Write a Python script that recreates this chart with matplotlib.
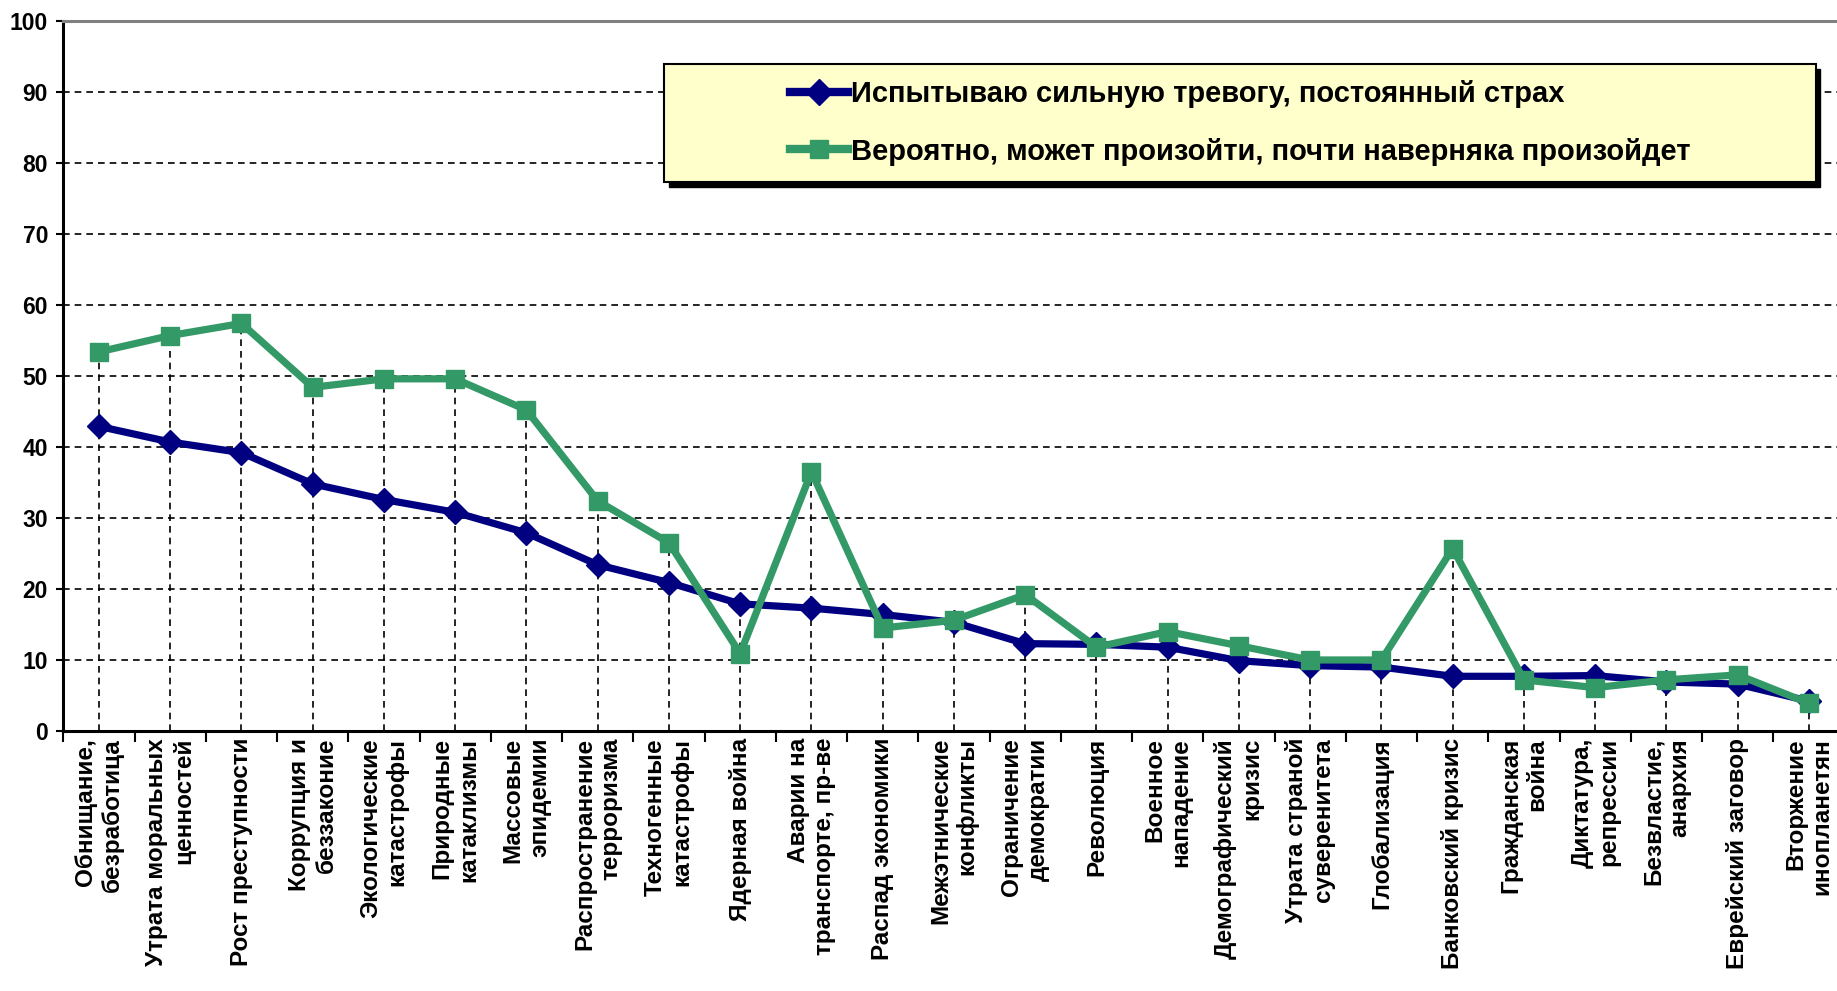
import matplotlib
matplotlib.use("Agg")
import matplotlib.pyplot as plt
from matplotlib.patches import Rectangle
from matplotlib.lines import Line2D
import numpy as np

plt.rcParams['font.family'] = ['Liberation Sans', 'DejaVu Sans']

categories = [
    "Обнищание,\nбезработица",
    "Утрата моральных\nценностей",
    "Рост преступности",
    "Коррупция и\nбеззаконие",
    "Экологические\nкатастрофы",
    "Природные\nкатаклизмы",
    "Массовые\nэпидемии",
    "Распространение\nтерроризма",
    "Техногенные\nкатастрофы",
    "Ядерная война",
    "Аварии на\nтранспорте, пр-ве",
    "Распад экономики",
    "Межэтнические\nконфликты",
    "Ограничение\nдемократии",
    "Революция",
    "Военное\nнападение",
    "Демографический\nкризис",
    "Утрата страной\nсуверенитета",
    "Глобализация",
    "Банковский кризис",
    "Гражданская\nвойна",
    "Диктатура,\nрепрессии",
    "Безвластие,\nанархия",
    "Еврейский заговор",
    "Вторжение\nинопланетян",
]

strong_fear = [42.9, 40.7, 39.2, 34.8, 32.6, 30.8, 27.9, 23.4, 20.9, 17.9, 17.3, 16.4,
               15.3, 12.3, 12.2, 11.8, 9.9, 9.2, 9.0, 7.7, 7.7, 7.8, 6.9, 6.6, 4.2]
likely = [53.4, 55.7, 57.4, 48.4, 49.6, 49.6, 45.2, 32.4, 26.5, 10.9, 36.5, 14.5,
          15.6, 19.2, 11.8, 14.0, 12.0, 10.0, 10.0, 25.7, 7.2, 6.1, 7.2, 7.9, 3.9]

series_names = ["Испытываю сильную тревогу, постоянный страх",
                "Вероятно, может произойти, почти наверняка произойдет"]
yticks = list(range(0, 101, 10))

BLUE = "#000080"
GREEN = "#339966"

fig = plt.figure(figsize=(18.37, 9.91), dpi=100)
ax = fig.add_axes([0.0345, 0.2624, 0.9696, 0.7164])

x = np.arange(len(categories))

# drop lines
ax.vlines(x, 0, np.maximum(strong_fear, likely), colors="black",
          linestyles=(0, (4, 3)), linewidth=1.2, zorder=1)

# horizontal gridlines
for yv in yticks[1:-1]:
    ax.axhline(yv, color="black", linestyle=(0, (4, 3)), linewidth=1.2, zorder=1)

ax.plot(x, strong_fear, color=BLUE, linewidth=5.2, marker="D", markersize=12,
        markerfacecolor=BLUE, markeredgecolor=BLUE, zorder=3, label=series_names[0])
ax.plot(x, likely, color=GREEN, linewidth=5.2, marker="s", markersize=13,
        markerfacecolor=GREEN, markeredgecolor=GREEN, zorder=4, label=series_names[1])

ax.set_xlim(-0.5, len(categories) - 0.5)
ax.set_ylim(0, 100)

ax.set_yticks(yticks)
ax.set_yticklabels([str(v) for v in yticks], fontsize=16.5, fontweight="bold")
ax.tick_params(axis="y", length=5, width=1.5, pad=6, direction="out")

ax.set_xticks(x)
ax.set_xticklabels(categories, rotation=90, fontsize=17.5, fontweight="bold",
                   va="top", ha="center", multialignment="right")
ax.tick_params(axis="x", which="major", length=0, pad=5)
ax.set_xticks(np.arange(-0.5, len(categories), 1), minor=True)
ax.tick_params(axis="x", which="minor", length=8, width=1.5, direction="out")

for s in ["left", "bottom"]:
    ax.spines[s].set_color("black")
    ax.spines[s].set_linewidth(2.2)
ax.spines["top"].set_color("#808080")
ax.spines["top"].set_linewidth(2.2)
ax.spines["right"].set_visible(False)

# legend box
bx, by, bw, bh = 0.3615, 0.8163, 0.627, 0.119
shadow = Rectangle((bx + 0.0025, by - 0.0045), bw, bh, transform=fig.transFigure,
                   facecolor="black", edgecolor="black", zorder=5, clip_on=False)
box = Rectangle((bx, by), bw, bh, transform=fig.transFigure,
                facecolor="#FFFFCC", edgecolor="black", linewidth=1.5, zorder=6, clip_on=False)
fig.add_artist(shadow)
fig.add_artist(box)

handles = [Line2D([], [], color=BLUE, linewidth=6, marker="D", markersize=13),
           Line2D([], [], color=GREEN, linewidth=6, marker="s", markersize=13)]
leg = fig.legend(handles, series_names, loc="center",
                 bbox_to_anchor=(bx + bw / 2, by + bh / 2),
                 bbox_transform=fig.transFigure, frameon=False,
                 prop={"size": 21, "weight": "bold"}, handlelength=2.0,
                 handletextpad=0.1, labelspacing=1.0)
leg.set_zorder(7)

fig.savefig("out.png", dpi=100)
